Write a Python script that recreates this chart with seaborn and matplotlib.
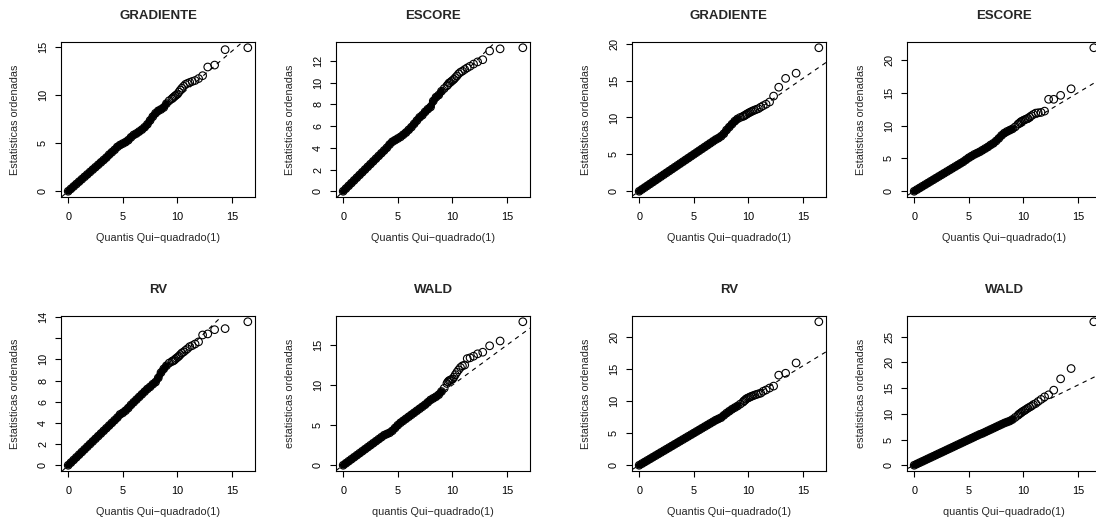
import matplotlib
matplotlib.use("Agg")
import matplotlib.pyplot as plt
import pandas as pd
import seaborn as sns

# Theoretical chi-square(1) quantiles (x positions)
quantis = [0.0, 0.25, 0.5, 0.75, 1.0, 1.25, 1.5, 1.75, 2.0, 2.25,
           2.5, 2.75, 3.0, 3.25, 3.5, 3.75, 4.0, 4.25, 4.5, 4.75,
           5.0, 5.25, 5.5, 5.75, 6.0, 6.25, 6.5, 6.75, 7.0, 7.25,
           7.5, 7.75, 8.0, 8.25, 8.5, 8.75, 9.0, 9.25, 9.5,
           9.59, 9.69, 9.79, 9.90, 10.02, 10.14, 10.27, 10.41, 10.57, 10.74,
           10.92, 11.13, 11.36, 11.62, 11.94, 12.31, 12.78, 13.41, 14.37, 16.45]

# Ordered statistics, one list per panel
gradiente_1 = [0.0, 0.25, 0.5, 0.75, 1.0, 1.25, 1.5, 1.75, 2.0, 2.25,
               2.5, 2.75, 3.0, 3.25, 3.5, 3.8, 4.05, 4.3, 4.6, 4.8,
               4.95, 5.1, 5.3, 5.6, 5.85, 6.0, 6.2, 6.4, 6.65, 6.95,
               7.35, 7.75, 8.1, 8.35, 8.5, 8.7, 9.1, 9.4, 9.6,
               9.7, 9.8, 9.9, 10.0, 10.1, 10.3, 10.5, 10.7, 10.9, 11.1,
               11.2, 11.3, 11.4, 11.5, 11.7, 12.0, 12.9, 13.1, 14.7, 14.9]
escore_1 = [0.0, 0.25, 0.5, 0.75, 1.0, 1.25, 1.5, 1.75, 2.0, 2.25,
            2.5, 2.75, 3.0, 3.25, 3.5, 3.75, 4.0, 4.3, 4.55, 4.7,
            4.85, 5.0, 5.2, 5.4, 5.65, 5.9, 6.2, 6.5, 6.8, 7.0,
            7.3, 7.55, 7.75, 8.3, 8.65, 8.85, 9.2, 9.45, 9.7,
            9.8, 9.95, 10.0, 10.1, 10.2, 10.3, 10.45, 10.6, 10.8, 10.95,
            11.05, 11.2, 11.35, 11.5, 11.7, 11.9, 12.1, 12.9, 13.1, 13.2]
gradiente_2 = [0.0, 0.25, 0.5, 0.75, 1.0, 1.25, 1.5, 1.75, 2.0, 2.25,
               2.5, 2.75, 3.0, 3.25, 3.5, 3.75, 4.0, 4.25, 4.5, 4.75,
               5.0, 5.25, 5.5, 5.75, 6.0, 6.25, 6.5, 6.75, 7.0, 7.2,
               7.45, 7.8, 8.3, 8.7, 9.1, 9.5, 9.8, 10.0, 10.15,
               10.2, 10.3, 10.4, 10.5, 10.6, 10.7, 10.8, 10.9, 11.0, 11.1,
               11.2, 11.4, 11.6, 11.8, 12.1, 12.9, 14.1, 15.3, 16.0, 19.45]
escore_2 = [0.0, 0.25, 0.5, 0.75, 1.0, 1.25, 1.5, 1.75, 2.0, 2.25,
            2.5, 2.75, 3.0, 3.25, 3.5, 3.75, 4.0, 4.25, 4.5, 4.8,
            5.1, 5.35, 5.6, 5.8, 6.0, 6.25, 6.5, 6.75, 7.05, 7.3,
            7.65, 8.05, 8.5, 8.85, 9.1, 9.3, 9.5, 9.8, 10.2,
            10.3, 10.45, 10.6, 10.7, 10.8, 10.9, 11.0, 11.1, 11.3, 11.5,
            11.7, 11.9, 11.95, 12.0, 12.2, 14.0, 14.0, 14.6, 15.6, 21.85]
rv_1 = [0.0, 0.25, 0.5, 0.75, 1.0, 1.25, 1.5, 1.75, 2.0, 2.25,
        2.5, 2.75, 3.0, 3.25, 3.5, 3.75, 4.0, 4.25, 4.5, 4.8,
        4.95, 5.15, 5.4, 5.7, 5.95, 6.2, 6.45, 6.7, 6.95, 7.2,
        7.4, 7.65, 7.85, 8.25, 8.75, 9.1, 9.4, 9.65, 9.8,
        9.85, 9.9, 10.0, 10.1, 10.2, 10.3, 10.45, 10.6, 10.7, 10.85,
        11.0, 11.2, 11.3, 11.45, 11.65, 12.3, 12.4, 12.8, 12.9, 13.55]
wald_1 = [0.0, 0.25, 0.5, 0.75, 1.0, 1.25, 1.5, 1.75, 2.0, 2.25,
          2.5, 2.75, 3.0, 3.25, 3.5, 3.75, 3.9, 4.05, 4.3, 4.65,
          5.0, 5.3, 5.55, 5.8, 6.05, 6.3, 6.55, 6.8, 7.05, 7.3,
          7.55, 7.85, 8.15, 8.35, 8.55, 8.8, 9.2, 9.6, 10.2,
          10.4, 10.55, 10.6, 10.7, 10.75, 11.0, 11.3, 11.6, 11.9, 12.2,
          12.4, 12.5, 13.3, 13.4, 13.6, 13.9, 14.1, 14.9, 15.5, 17.9]
rv_2 = [0.0, 0.25, 0.5, 0.75, 1.0, 1.25, 1.5, 1.75, 2.0, 2.25,
        2.5, 2.75, 3.0, 3.25, 3.5, 3.75, 4.0, 4.25, 4.5, 4.75,
        5.0, 5.25, 5.5, 5.75, 6.0, 6.25, 6.5, 6.75, 7.0, 7.2,
        7.4, 7.75, 8.1, 8.4, 8.7, 8.95, 9.2, 9.5, 9.8,
        10.0, 10.1, 10.3, 10.4, 10.5, 10.6, 10.7, 10.8, 10.9, 11.0,
        11.1, 11.2, 11.5, 11.7, 12.0, 12.3, 14.0, 14.3, 15.9, 22.3]
wald_2 = [0.0, 0.25, 0.5, 0.75, 1.0, 1.25, 1.5, 1.75, 2.0, 2.25,
          2.5, 2.75, 3.0, 3.25, 3.5, 3.75, 4.0, 4.25, 4.5, 4.75,
          5.0, 5.25, 5.5, 5.75, 6.0, 6.2, 6.45, 6.7, 6.95, 7.2,
          7.45, 7.7, 7.95, 8.2, 8.4, 8.6, 8.9, 9.3, 9.7,
          9.9, 10.05, 10.2, 10.4, 10.55, 10.7, 10.9, 11.1, 11.3, 11.5,
          11.8, 12.0, 12.4, 12.8, 13.3, 13.7, 14.6, 16.8, 18.8, 27.9]

# Reference lines (intercept, slope)
linhas = [(0.0, 0.97), (0.0, 0.985), (0.0, 1.02), (0.0, 1.0),
          (0.0, 1.0), (0.0, 1.0), (0.0, 1.03), (0.0, 1.04)]

titulos = ["GRADIENTE", "ESCORE", "GRADIENTE", "ESCORE",
           "RV", "WALD", "RV", "WALD"]
xrotulos = ["Quantis Qui\u2212quadrado(1)"] * 5 + ["quantis Qui\u2212quadrado(1)",
            "Quantis Qui\u2212quadrado(1)", "quantis Qui\u2212quadrado(1)"]
yrotulos = ["Estatisticas ordenadas"] * 5 + ["estatisticas ordenadas",
            "Estatisticas ordenadas", "estatisticas ordenadas"]
xticks = [0, 5, 10, 15]
yticks = [[0, 5, 10, 15], [0, 2, 4, 6, 8, 10, 12], [0, 5, 10, 15, 20],
          [0, 5, 10, 15, 20], [0, 2, 4, 6, 8, 10, 12, 14], [0, 5, 10, 15],
          [0, 5, 10, 15, 20], [0, 5, 10, 15, 20, 25]]
ytick_labels = [["0", "5", "10", "15"], ["0", "2", "4", "6", "8", "10", "12"],
                ["0", "5", "10", "15", "20"], ["0", "5", "10", "15", "20"],
                ["0", "2", "4", "6", "8", "10", "", "14"], ["0", "5", "10", "15"],
                ["0", "5", "10", "15", "20"], ["0", "5", "10", "15", "20", "25"]]
series = [gradiente_1, escore_1, gradiente_2, escore_2, rv_1, wald_1, rv_2, wald_2]

# thousands of overlapping circles form a solid band up to this quantile
limite_denso = 9.0

sns.set_style("ticks")
plt.rcParams['font.family'] = ['Liberation Sans', 'DejaVu Sans']

W, H = 1096, 528
fig = plt.figure(figsize=(W / 100, H / 100), dpi=100)
box_w, box_h = 194, 155
lefts = [61, 336, 632, 907]
tops = [42, 316]

for i in range(8):
    left = lefts[i % 4]
    top = tops[i // 4]
    ax = fig.add_axes([left / W, 1 - (top + box_h) / H, box_w / W, box_h / H])
    df = pd.DataFrame({"q": quantis, "s": series[i]})
    denso = df[df["q"] <= limite_denso]
    sns.lineplot(data=denso, x="q", y="s", ax=ax, color="black", lw=5.0,
                 solid_capstyle="round", solid_joinstyle="round",
                 sort=False, estimator=None, legend=False, zorder=2.5)
    sns.scatterplot(data=df, x="q", y="s", ax=ax, marker="o", s=30,
                    facecolor="none", edgecolor="black", linewidth=0.8,
                    legend=False, zorder=3)
    b, m = linhas[i]
    ax.axline((0, b), slope=m, color="black", lw=0.8,
              linestyle=(0, (4, 4)), zorder=2)
    xmin, xmax = min(quantis), max(quantis)
    ymin, ymax = min(series[i]), max(series[i])
    ax.set_xlim(xmin - 0.04 * (xmax - xmin), xmax + 0.04 * (xmax - xmin))
    ax.set_ylim(ymin - 0.04 * (ymax - ymin), ymax + 0.04 * (ymax - ymin))
    ax.set_xticks(xticks)
    ax.set_xticklabels([str(t) for t in xticks])
    ax.set_yticks(yticks[i])
    ax.set_yticklabels(ytick_labels[i], rotation=90, va="center")
    ax.tick_params(axis="x", pad=6.5)
    ax.tick_params(axis="y", pad=5)
    ax.tick_params(direction="out", length=4.3, width=0.8, labelsize=7.8,
                   color="black", labelcolor="black")
    for sp in ax.spines.values():
        sp.set_visible(True)
        sp.set_linewidth(0.8)
        sp.set_color("black")
    ax.set_title(titulos[i], fontsize=9.5, fontweight="bold", pad=16.5)
    ax.set_xlabel(xrotulos[i], fontsize=7.8, labelpad=8)
    ax.set_ylabel(yrotulos[i], fontsize=7.8, labelpad=13)

fig.savefig("out.png", dpi=100)
